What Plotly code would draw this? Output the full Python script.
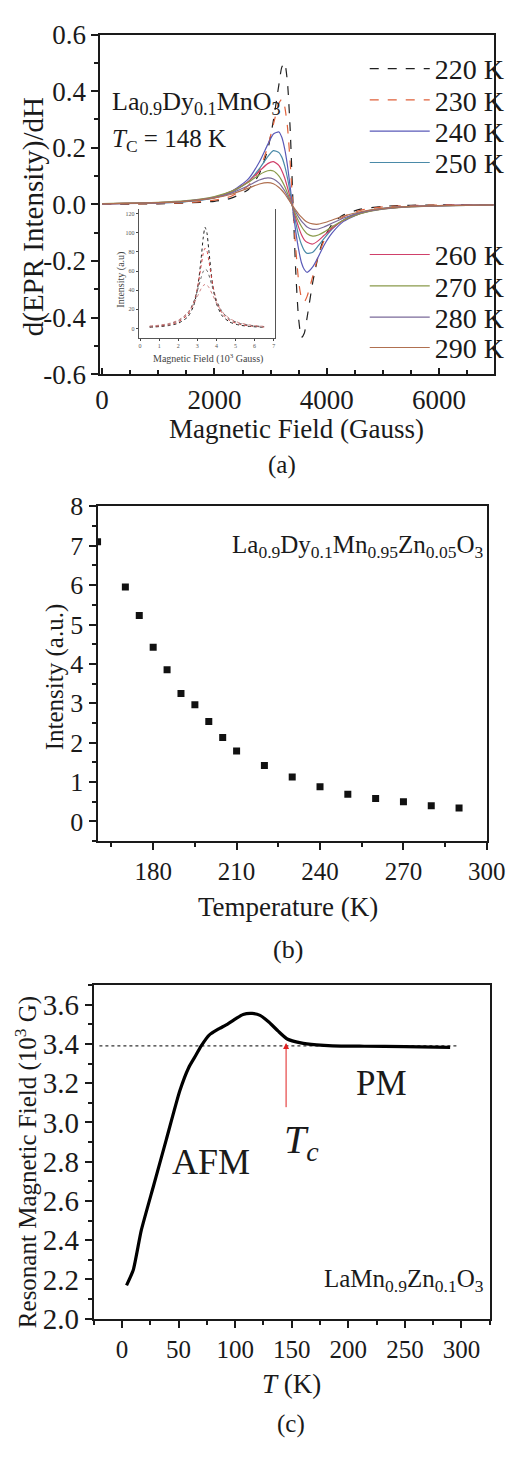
import plotly.graph_objects as go

W, H = 524, 1462
FONT = "Liberation Serif"
INK = "#1a1a1a"

def px(x):
    return x / W

def py(y):
    return 1 - y / H

# ---------------- Panel (a): EPR derivative spectra ----------------
field_G = [0, 1000, 1500, 2000, 2300, 2600, 2800, 2950, 3050, 3150, 3200, 3250, 3300,
           3350, 3400, 3450, 3500, 3550, 3600, 3650, 3750, 3850, 3950, 4100, 4300,
           4600, 5000, 5500, 6000, 7000]
temps_a = [220, 230, 240, 250, 260, 270, 280, 290]
epr_220 = [0.001, 0.002, 0.005, 0.011, 0.022, 0.052, 0.108, 0.194, 0.297, 0.426, 0.485, 0.500, 0.432,
           0.260, 0.0, -0.245, -0.406, -0.470, -0.455, -0.400, -0.276, -0.181, -0.120, -0.068, -0.037,
           -0.017, -0.007, -0.003, -0.002, -0.001]
epr_230 = [0.001, 0.003, 0.006, 0.015, 0.029, 0.066, 0.121, 0.205, 0.283, 0.358, 0.372, 0.346, 0.275,
           0.145, -0.016, -0.160, -0.272, -0.330, -0.344, -0.325, -0.254, -0.182, -0.129, -0.079, -0.044,
           -0.021, -0.009, -0.004, -0.002, -0.001]
epr_240 = [0.002, 0.005, 0.011, 0.024, 0.046, 0.089, 0.150, 0.212, 0.249, 0.256, 0.237, 0.197, 0.138,
           0.060, -0.024, -0.099, -0.160, -0.206, -0.230, -0.240, -0.221, -0.185, -0.145, -0.100, -0.060,
           -0.032, -0.015, -0.007, -0.004, -0.002]
epr_250 = [0.002, 0.005, 0.010, 0.023, 0.042, 0.080, 0.126, 0.169, 0.190, 0.183, 0.167, 0.137, 0.094,
           0.040, -0.016, -0.066, -0.110, -0.142, -0.163, -0.173, -0.169, -0.146, -0.121, -0.086, -0.054,
           -0.029, -0.014, -0.007, -0.004, -0.001]
epr_260 = [0.002, 0.006, 0.012, 0.026, 0.045, 0.080, 0.117, 0.144, 0.151, 0.137, 0.119, 0.094, 0.060,
           0.023, -0.015, -0.050, -0.081, -0.107, -0.125, -0.134, -0.140, -0.128, -0.110, -0.084, -0.056,
           -0.032, -0.016, -0.008, -0.004, -0.002]
epr_270 = [0.003, 0.007, 0.013, 0.028, 0.046, 0.077, 0.105, 0.119, 0.118, 0.100, 0.084, 0.064, 0.040,
           0.014, -0.013, -0.038, -0.060, -0.078, -0.093, -0.104, -0.112, -0.108, -0.098, -0.078, -0.056,
           -0.033, -0.017, -0.009, -0.005, -0.002]
epr_280 = [0.002, 0.006, 0.012, 0.024, 0.040, 0.066, 0.086, 0.094, 0.090, 0.075, 0.063, 0.048, 0.030,
           0.010, -0.009, -0.028, -0.045, -0.059, -0.070, -0.080, -0.088, -0.087, -0.080, -0.066, -0.048,
           -0.029, -0.016, -0.008, -0.005, -0.002]
epr_290 = [0.002, 0.006, 0.011, 0.023, 0.036, 0.057, 0.072, 0.077, 0.073, 0.060, 0.050, 0.038, 0.023,
           0.008, -0.007, -0.021, -0.034, -0.045, -0.055, -0.062, -0.069, -0.070, -0.065, -0.055, -0.041,
           -0.026, -0.014, -0.007, -0.004, -0.002]
epr_series = [epr_220, epr_230, epr_240, epr_250, epr_260, epr_270, epr_280, epr_290]
epr_colors = ["#202020", "#e0603a", "#5a5ab8", "#4a8aa8", "#d0406a", "#8a9a4a", "#7a6a9a", "#b07050"]
epr_dashes = ["dash", "dash", "solid", "solid", "solid", "solid", "solid", "solid"]
legend_rows_y = [55, 87, 119, 151, 245, 277, 309, 340]   # vertical pixel centre of each legend row

a_yticks = [-0.6, -0.4, -0.2, 0.0, 0.2, 0.4, 0.6]
a_yticktext = ["-0.6", "-0.4", "-0.2", "0.0", "0.2", "0.4", "0.6"]
a_xticks = [0, 2000, 4000, 6000]

# Inset of (a): integrated absorption
inset_field_kG = [0.5, 1.0, 1.5, 2.0, 2.5, 2.8, 3.0, 3.2, 3.3, 3.4, 3.5, 3.6, 3.8, 4.0, 4.3, 4.7, 5.2, 5.8, 6.5]
inset_1 = [1.3, 1.9, 3.0, 5.4, 12.1, 23.4, 40.4, 73.4, 93.6, 105.8, 100.0, 81.7, 45.5, 25.9, 13.1, 6.6, 3.5, 2.0, 1.2]
inset_2 = [1.7, 2.5, 3.8, 6.8, 14.5, 26.4, 42.0, 65.9, 77.7, 83.8, 81.1, 71.0, 46.1, 29.0, 15.5, 8.2, 4.4, 2.5, 1.5]
inset_3 = [2.1, 3.0, 4.7, 8.1, 16.3, 27.3, 39.2, 53.4, 59.2, 61.9, 60.7, 56.0, 42.0, 29.4, 17.4, 9.6, 5.4, 3.1, 1.9]
inset_4 = [2.4, 3.4, 5.1, 8.6, 16.3, 25.1, 33.3, 41.7, 44.6, 46.0, 45.4, 43.0, 35.0, 26.6, 17.3, 10.2, 5.9, 3.5, 2.1]
inset_series = [inset_1, inset_2, inset_3, inset_4]
inset_colors = ["#202020", "#d04040", "#606060", "#d08080"]

# ---------------- Panel (b): intensity vs temperature ----------------
temp_b = [160, 170, 175, 180, 185, 190, 195, 200, 205, 210, 220, 230, 240, 250, 260, 270, 280, 290]
intensity_b = [7.10, 5.95, 5.23, 4.42, 3.85, 3.25, 2.96, 2.54, 2.13, 1.79, 1.42, 1.13, 0.88, 0.69, 0.58, 0.50, 0.40, 0.34]

# ---------------- Panel (c): resonant field vs temperature ----------------
temp_c = [4, 10, 17, 28, 39, 51, 59, 64, 70, 77, 85, 93, 101, 107, 115, 122, 130, 138, 146, 158, 172, 186, 214, 250, 290]
field_c = [2.17, 2.25, 2.45, 2.68, 2.91, 3.16, 3.28, 3.33, 3.39, 3.445, 3.475, 3.50, 3.53, 3.55, 3.555, 3.545,
           3.51, 3.465, 3.425, 3.405, 3.395, 3.39, 3.388, 3.386, 3.382]
ref_line_T = [-20, 298]
ref_line_H = [3.39, 3.39]
tc_T = 145
tc_arrow_from = 3.07
tc_arrow_to = 3.405

fig = go.Figure()
legend_keys = ["legend"] + [f"legend{i}" for i in range(2, 9)]

# Panel (a) traces
for i, (t, ys) in enumerate(zip(temps_a, epr_series)):
    fig.add_trace(go.Scatter(
        x=field_G, y=ys, mode="lines", name=f"{t} K",
        line=dict(color=epr_colors[i], width=1.2, dash=epr_dashes[i], shape="spline", smoothing=0.6),
        xaxis="x", yaxis="y", legend=legend_keys[i],
    ))

# Inset traces
for i, ys in enumerate(inset_series):
    fig.add_trace(go.Scatter(
        x=inset_field_kG, y=ys, mode="lines",
        line=dict(color=inset_colors[i], width=1, dash="dot", shape="spline", smoothing=0.6),
        xaxis="x2", yaxis="y2", showlegend=False,
    ))

# Panel (b)
fig.add_trace(go.Scatter(
    x=temp_b, y=intensity_b, mode="markers",
    marker=dict(symbol="square", size=7, color="#111111"),
    xaxis="x3", yaxis="y3", showlegend=False,
))

# Panel (c)
fig.add_trace(go.Scatter(
    x=ref_line_T, y=ref_line_H, mode="lines",
    line=dict(color="#333333", width=1.2, dash="dot"),
    xaxis="x4", yaxis="y4", showlegend=False,
))
fig.add_trace(go.Scatter(
    x=temp_c, y=field_c, mode="lines",
    line=dict(color="#000000", width=3.2, shape="spline", smoothing=0.5),
    xaxis="x4", yaxis="y4", showlegend=False,
))

def frame_axis(size, **kw):
    d = dict(showline=True, linecolor=INK, linewidth=2, mirror=True, ticks="outside",
             ticklen=7, tickwidth=1.6, tickcolor=INK, showgrid=False, zeroline=False,
             tickfont=dict(family=FONT, size=size, color=INK))
    d.update(kw)
    return d

minor_out = lambda dt: dict(dtick=dt, ticklen=4, ticks="outside", tickcolor=INK)

layout = dict(
    width=W, height=H, margin=dict(l=0, r=0, t=0, b=0),
    paper_bgcolor="white", plot_bgcolor="rgba(0,0,0,0)",
    font=dict(family=FONT, color=INK),
    xaxis=frame_axis(27, domain=[px(100), px(512)], range=[-30, 6970], tickvals=a_xticks,
                     ticks="inside", ticklen=6,
                     minor=dict(dtick=500, ticklen=4, ticks="inside", tickcolor=INK), anchor="y"),
    yaxis=frame_axis(27, domain=[py(367), py(20)], range=[-0.6, 0.6], tickvals=a_yticks,
                     ticktext=a_yticktext, minor=minor_out(0.1), anchor="x"),
    xaxis2=dict(domain=[px(140), px(283)], range=[-0.08, 7.07], anchor="y2", showline=True,
                linecolor="#555555", linewidth=1, mirror=False, ticks="outside", ticklen=2,
                tickvals=[0, 1, 2, 3, 4, 5, 6, 7], tickfont=dict(family=FONT, size=6, color="#555555"),
                showgrid=False, zeroline=False),
    yaxis2=dict(domain=[py(330), py(198)], range=[-10, 125], anchor="x2", showline=True,
                linecolor="#555555", linewidth=1, mirror=True, ticks="outside", ticklen=2,
                tickvals=[0, 20, 40, 60, 80, 100, 120], tickfont=dict(family=FONT, size=6, color="#555555"),
                showgrid=False, zeroline=False),
    xaxis3=frame_axis(25, domain=[px(97), px(505)], range=[160, 300], tickvals=[180, 210, 240, 270, 300],
                      minor=minor_out(15), anchor="y3"),
    yaxis3=frame_axis(26, domain=[py(844), py(502)], range=[-0.5, 8], dtick=1,
                      minor=minor_out(0.5), anchor="x3"),
    xaxis4=frame_axis(25, domain=[px(93), px(508)], range=[-25, 325], dtick=50,
                      minor=minor_out(25), anchor="y4"),
    yaxis4=frame_axis(29, domain=[py(1332), py(991)], range=[2.0, 3.7], dtick=0.2, tickformat=".1f",
                      minor=minor_out(0.1), anchor="x4"),
)
for i, key in enumerate(legend_keys):
    layout[key] = dict(x=px(377), y=py(legend_rows_y[i]), xanchor="left", yanchor="middle",
                       bgcolor="rgba(0,0,0,0)", font=dict(family=FONT, size=28, color=INK),
                       itemwidth=60, tracegroupgap=0)
fig.update_layout(**layout)

ann = []
def text(x, y, s, size, color=INK, **kw):
    d = dict(x=px(x), y=py(y), xref="paper", yref="paper", text=s, showarrow=False,
             xanchor="center", yanchor="middle",
             font=dict(family=FONT, size=size, color=color))
    d.update(kw)
    ann.append(d)

# Panel (a) text
text(306, 423, "Magnetic Field (Gauss)", 27)
text(30, 206, "d(EPR Intensity)/dH", 29, textangle=-90)
text(290, 460, "(a)", 25)
text(110, 90, "La<sub>0.9</sub>Dy<sub>0.1</sub>MnO<sub>3</sub>", 26, xanchor="left")
text(110, 128, "<i>T</i><sub>C</sub> = 148 K", 25, xanchor="left")
text(213, 351, "Magnetic Field (10<sup>3</sup> Gauss)", 10, color="#444444")
text(122, 270, "Intensity (a.u)", 10, color="#444444", textangle=-90)

# Panel (b) text
text(52, 677, "Intensity (a.u.)", 25, textangle=-90)
text(297, 911, "Temperature (K)", 27)
text(297, 955, "(b)", 26)
text(504, 543, "La<sub>0.9</sub>Dy<sub>0.1</sub>Mn<sub>0.95</sub>Zn<sub>0.05</sub>O<sub>3</sub>", 25,
     xanchor="right")

# Panel (c) text
text(22, 1172, "Resonant Magnetic Field (10<sup>3</sup> G)", 25, textangle=-90)
text(300, 1399, "<i>T</i> (K)", 27)
text(300, 1440, "(c)", 25)
text(504, 1293, "LaMn<sub>0.9</sub>Zn<sub>0.1</sub>O<sub>3</sub>", 25, xanchor="right")

ann.append(dict(x=79, y=2.80, xref="x4", yref="y4", text="AFM", showarrow=False,
                font=dict(family=FONT, size=36, color=INK)))
ann.append(dict(x=229, y=3.20, xref="x4", yref="y4", text="PM", showarrow=False,
                font=dict(family=FONT, size=35, color=INK)))
ann.append(dict(x=159, y=2.90, xref="x4", yref="y4", text="<i>T<sub>c</sub></i>", showarrow=False,
                font=dict(family=FONT, size=40, color=INK)))
ann.append(dict(x=tc_T, y=tc_arrow_to, ax=tc_T, ay=tc_arrow_from, xref="x4", yref="y4",
                axref="x4", ayref="y4", text="", showarrow=True, arrowhead=2, arrowsize=1.2,
                arrowwidth=1, arrowcolor="#e02020"))

fig.update_layout(annotations=ann)
fig.write_html("out.html")
